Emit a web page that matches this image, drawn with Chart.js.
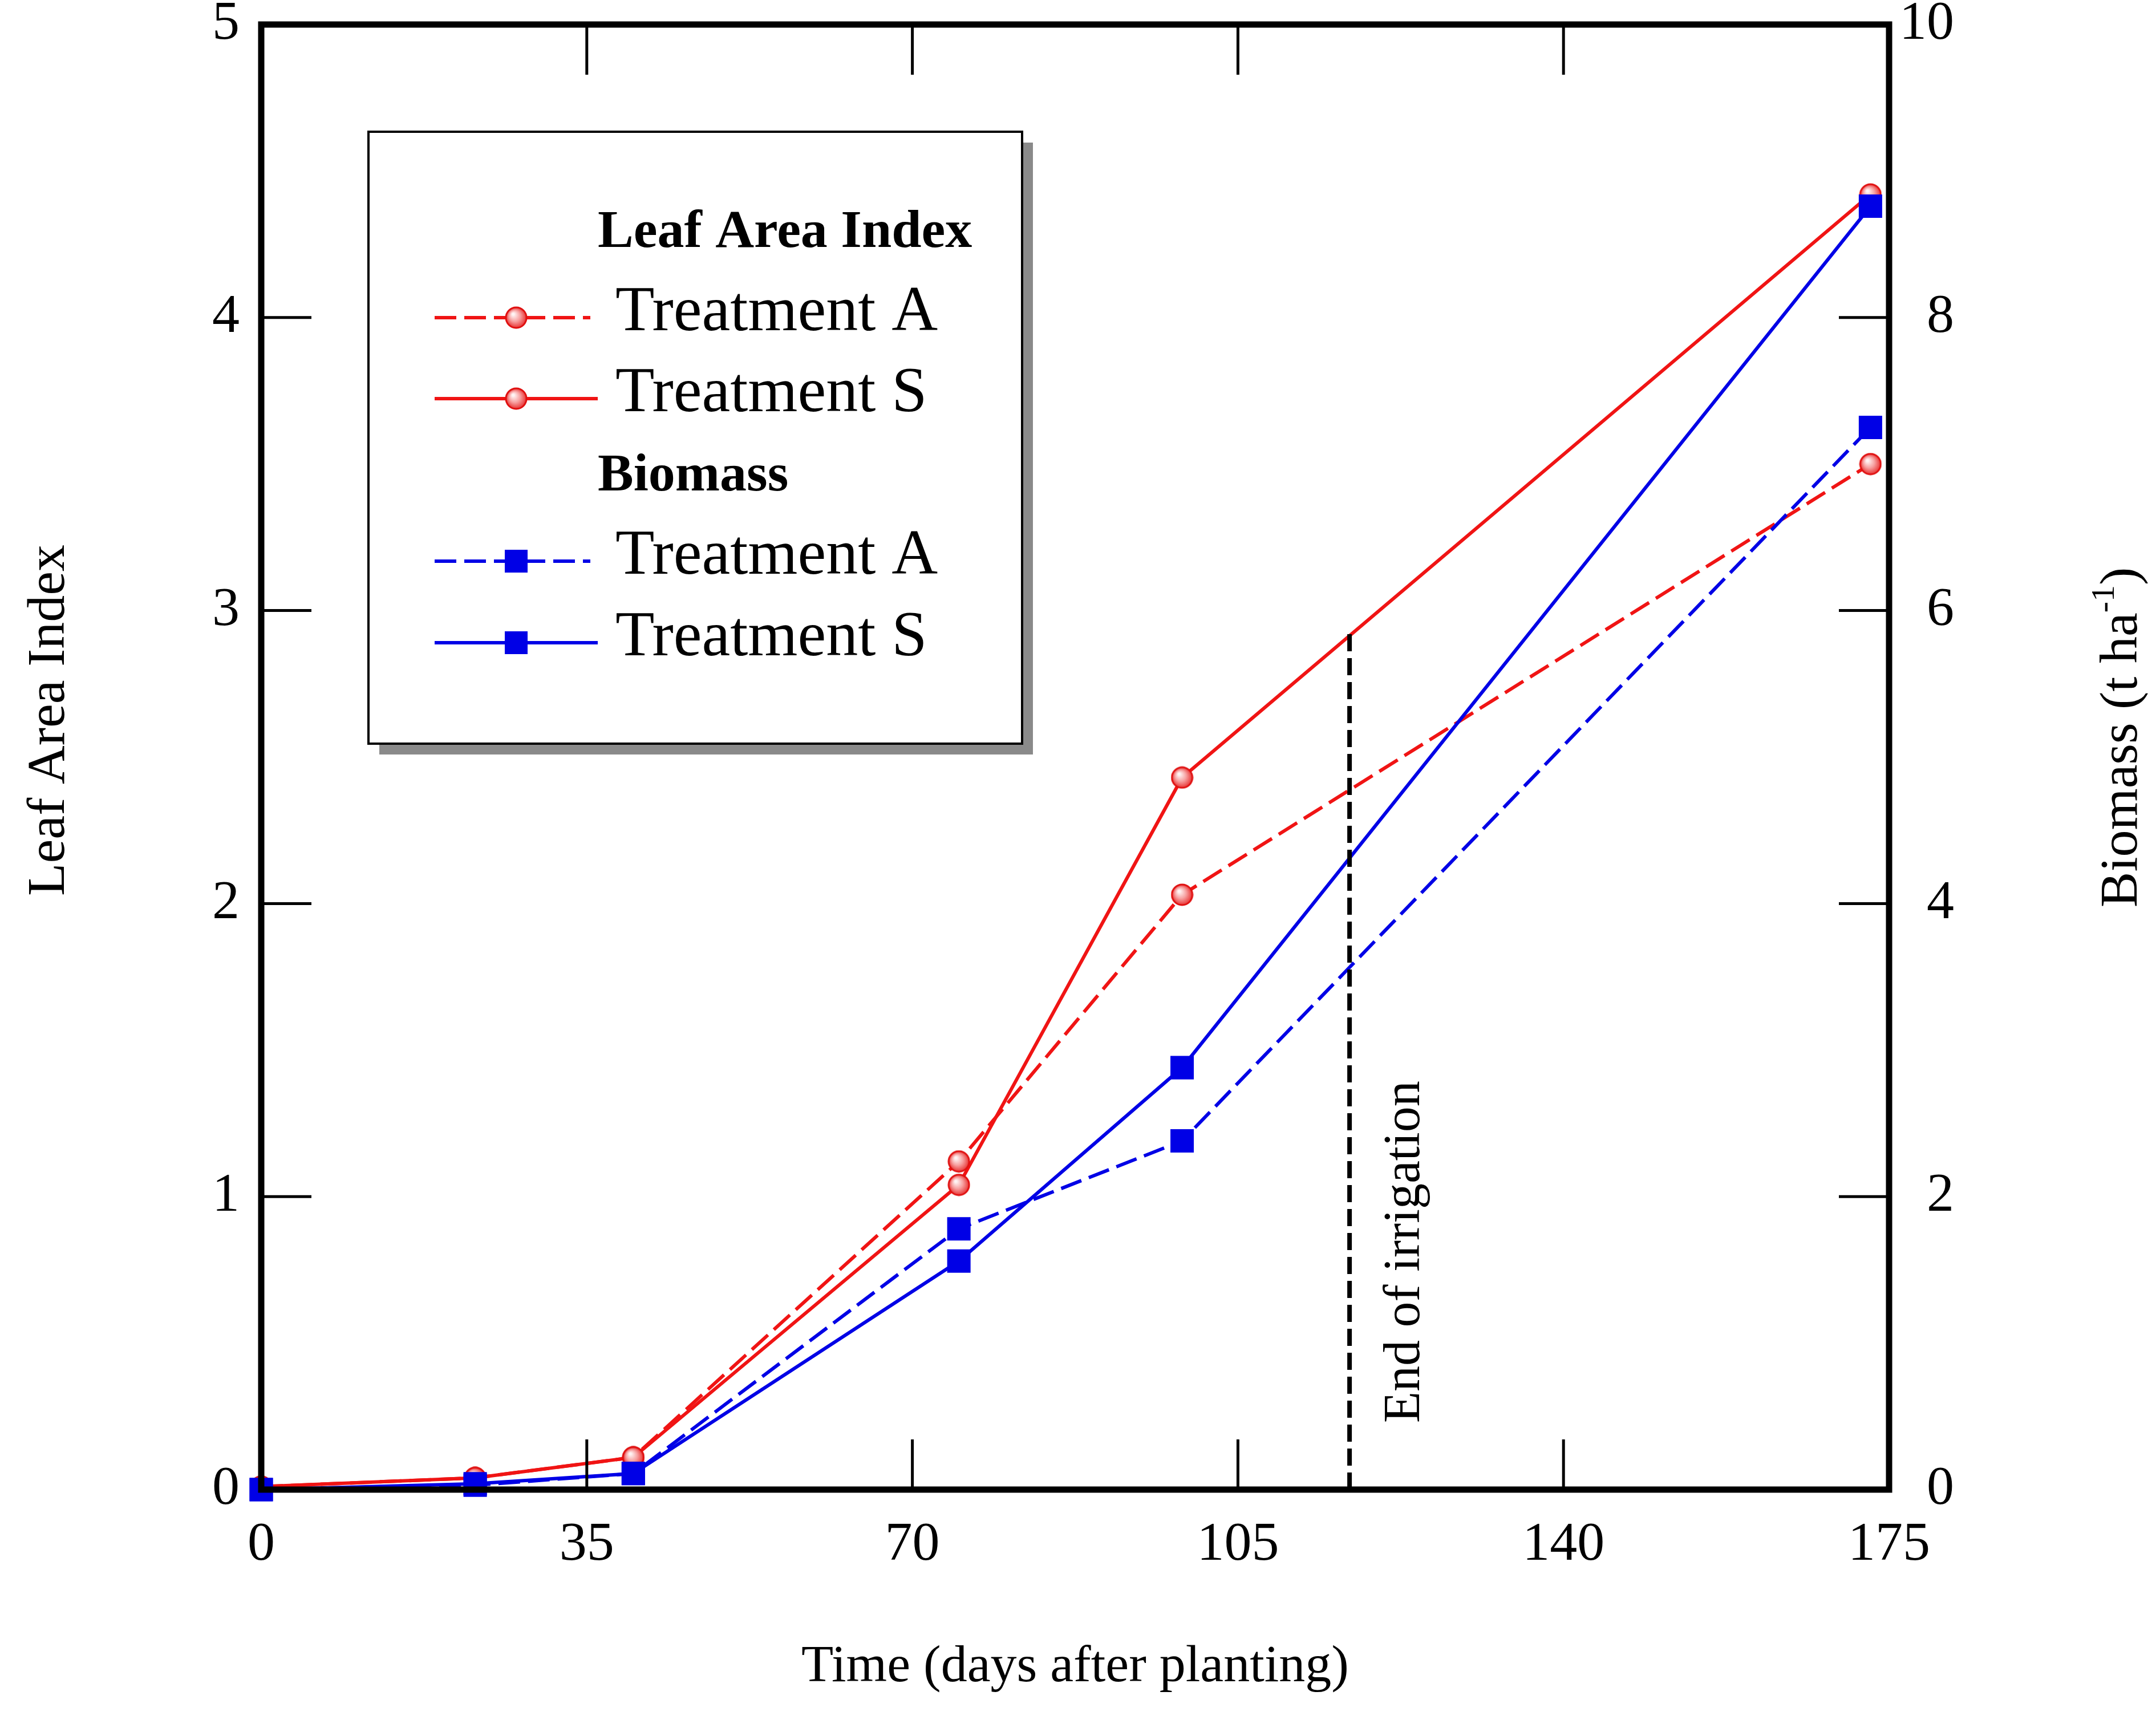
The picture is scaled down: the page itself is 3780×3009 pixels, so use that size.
<!DOCTYPE html>
<html>
<head>
<meta charset="utf-8">
<script src="https://cdn.jsdelivr.net/npm/chart.js@4.4.1/dist/chart.umd.min.js"></script>
<style>
html, body { margin: 0; padding: 0; background: #fff; }
canvas { display: block; }
</style>
</head>
<body>
<canvas id="chart" width="3780" height="3009"></canvas>
<script>
// Data
const days = [0, 23, 40, 75, 99, 173];
const laiTreatmentA = [0.01, 0.04, 0.11, 1.12, 2.03, 3.50];
const laiTreatmentS = [0.01, 0.04, 0.11, 1.04, 2.43, 4.42];
const biomassTreatmentA = [0.00, 0.03, 0.11, 1.78, 2.38, 7.25];
const biomassTreatmentS = [0.00, 0.04, 0.11, 1.56, 2.88, 8.76];
const dayTicks = [0, 35, 70, 105, 140, 175];
const laiTicks = [0, 1, 2, 3, 4, 5];
const biomassTicks = [0, 2, 4, 6, 8, 10];
const irrigationDay = 117;
const irrigationTop = 2.92;

const RED = '#f01414';
const BLUE = '#0000e6';
const SERIF = '"Liberation Serif", "Times New Roman", serif';

function toPoints(xs, ys) {
    return xs.map((x, i) => ({ x: x, y: ys[i] }));
}

// glossy red ball used as marker
function makeSphere(size) {
    const c = document.createElement('canvas');
    c.width = size;
    c.height = size;
    const g = c.getContext('2d');
    const r = size / 2 - 2;
    const cx = size / 2, cy = size / 2;
    const grad = g.createRadialGradient(cx - r * 0.3, cy - r * 0.35, r * 0.1, cx, cy, r);
    grad.addColorStop(0, '#fff4f4');
    grad.addColorStop(0.5, '#f7a0a0');
    grad.addColorStop(1, '#e83434');
    g.beginPath();
    g.arc(cx, cy, r, 0, Math.PI * 2);
    g.fillStyle = grad;
    g.fill();
    g.lineWidth = 3;
    g.strokeStyle = '#e01010';
    g.stroke();
    return c;
}
const sphere = makeSphere(40);

const tickFont = { family: SERIF, size: 96, lineHeight: 1.2 };

function line(ctx, x1, y1, x2, y2) {
    ctx.beginPath();
    ctx.moveTo(x1, y1);
    ctx.lineTo(x2, y2);
    ctx.stroke();
}

// frame, inner ticks, titles, annotation and legend
const decorations = {
    id: 'decorations',
    afterDraw(chart) {
        const ctx = chart.ctx;
        const { left, right, top, bottom } = chart.chartArea;
        const xs = chart.scales.x, ys = chart.scales.y, y2 = chart.scales.y2;
        ctx.save();
        ctx.strokeStyle = '#000';
        ctx.lineWidth = 5;
        dayTicks.forEach(v => {
            const px = xs.getPixelForValue(v);
            line(ctx, px, bottom, px, bottom - 88);
            line(ctx, px, top, px, top + 88);
        });
        laiTicks.forEach(v => {
            const py = ys.getPixelForValue(v);
            line(ctx, left, py, left + 88, py);
        });
        biomassTicks.forEach(v => {
            const py = y2.getPixelForValue(v);
            line(ctx, right, py, right - 88, py);
        });
        ctx.lineWidth = 11;
        ctx.strokeRect(left, top, right - left, bottom - top);

        ctx.fillStyle = '#000';
        // left title
        ctx.save();
        ctx.translate(112, 1263);
        ctx.rotate(-Math.PI / 2);
        ctx.font = '94px ' + SERIF;
        ctx.textAlign = 'center';
        ctx.textBaseline = 'alphabetic';
        ctx.fillText('Leaf Area Index', 0, 0);
        ctx.restore();

        // right title with superscript
        ctx.save();
        ctx.translate(3746, 1293);
        ctx.rotate(-Math.PI / 2);
        ctx.textAlign = 'left';
        ctx.textBaseline = 'alphabetic';
        const mainFont = '94px ' + SERIF, supFont = '58px ' + SERIF;
        ctx.font = mainFont;
        const w1 = ctx.measureText('Biomass (t ha').width;
        const w3 = ctx.measureText(')').width;
        ctx.font = supFont;
        const w2 = ctx.measureText('-1').width;
        let x0 = -(w1 + w2 + w3) / 2;
        ctx.font = mainFont;
        ctx.fillText('Biomass (t ha', x0, 0);
        ctx.font = supFont;
        ctx.fillText('-1', x0 + w1, -40);
        ctx.font = mainFont;
        ctx.fillText(')', x0 + w1 + w2, 0);
        ctx.restore();

        // irrigation note
        ctx.save();
        ctx.translate(xs.getPixelForValue(irrigationDay) + 122, ys.getPixelForValue(0) - 117);
        ctx.rotate(-Math.PI / 2);
        ctx.font = '90px ' + SERIF;
        ctx.textAlign = 'left';
        ctx.textBaseline = 'alphabetic';
        ctx.fillText('End of irrigation', 0, 0);
        ctx.restore();

        // legend
        const L = { x: 646, y: 231, w: 1146, h: 1073 };
        ctx.fillStyle = '#8a8a8a';
        ctx.fillRect(L.x + 19, L.y + 19, L.w, L.h);
        ctx.fillStyle = '#fff';
        ctx.fillRect(L.x, L.y, L.w, L.h);
        ctx.lineWidth = 4;
        ctx.strokeStyle = '#000';
        ctx.strokeRect(L.x, L.y, L.w, L.h);

        ctx.fillStyle = '#000';
        ctx.textAlign = 'left';
        ctx.textBaseline = 'alphabetic';
        ctx.font = 'bold 94px ' + SERIF;
        ctx.fillText('Leaf Area Index', 1048, 433);
        ctx.fillText('Biomass', 1048, 860);

        const rows = [
            { ds: chart.data.datasets[3], y: 557 },
            { ds: chart.data.datasets[4], y: 699 },
            { ds: chart.data.datasets[1], y: 984 },
            { ds: chart.data.datasets[2], y: 1127 }
        ];
        rows.forEach(r => {
            ctx.save();
            ctx.strokeStyle = r.ds.borderColor;
            ctx.lineWidth = r.ds.borderWidth;
            ctx.setLineDash(r.ds.borderDash || []);
            line(ctx, 762, r.y, r.ds.borderDash ? 1035 : 1048, r.y);
            ctx.restore();
            if (r.ds.pointStyle === 'rect') {
                ctx.fillStyle = r.ds.backgroundColor;
                ctx.fillRect(905 - 20, r.y - 20, 40, 40);
            } else {
                ctx.drawImage(r.ds.pointStyle, 905 - 20, r.y - 20);
            }
            ctx.fillStyle = '#000';
            ctx.font = '112px ' + SERIF;
            ctx.fillText(r.ds.legendText, 1079, r.y + 22);
        });
        ctx.restore();
    }
};

new Chart(document.getElementById('chart'), {
    type: 'line',
    data: {
        datasets: [
            {
                label: 'End of irrigation',
                data: [{ x: irrigationDay, y: 0 }, { x: irrigationDay, y: irrigationTop }],
                yAxisID: 'y',
                borderColor: '#000',
                borderWidth: 8,
                borderDash: [30, 12],
                pointRadius: 0,
                order: 0
            },
            {
                label: 'Biomass Treatment A',
                legendText: 'Treatment A',
                data: toPoints(days, biomassTreatmentA),
                yAxisID: 'y2',
                borderColor: BLUE,
                backgroundColor: BLUE,
                borderWidth: 6,
                borderDash: [38, 14],
                pointStyle: 'rect',
                pointRadius: 29,
                pointBorderWidth: 0,
                clip: false,
                order: 1
            },
            {
                label: 'Biomass Treatment S',
                legendText: 'Treatment S',
                data: toPoints(days, biomassTreatmentS),
                yAxisID: 'y2',
                borderColor: BLUE,
                backgroundColor: BLUE,
                borderWidth: 6,
                pointStyle: 'rect',
                pointRadius: 29,
                pointBorderWidth: 0,
                clip: false,
                order: 1
            },
            {
                label: 'LAI Treatment A',
                legendText: 'Treatment A',
                data: toPoints(days, laiTreatmentA),
                yAxisID: 'y',
                borderColor: RED,
                backgroundColor: RED,
                borderWidth: 6,
                borderDash: [38, 14],
                pointStyle: sphere,
                pointRadius: 20,
                clip: false,
                order: 2
            },
            {
                label: 'LAI Treatment S',
                legendText: 'Treatment S',
                data: toPoints(days, laiTreatmentS),
                yAxisID: 'y',
                borderColor: RED,
                backgroundColor: RED,
                borderWidth: 6,
                pointStyle: sphere,
                pointRadius: 20,
                clip: false,
                order: 2
            }
        ]
    },
    options: {
        responsive: false,
        devicePixelRatio: 1,
        animation: false,
        events: [],
        layout: { padding: { top: 43, left: 0, right: 354, bottom: 0 } },
        elements: { line: { tension: 0 } },
        plugins: {
            legend: { display: false },
            tooltip: { enabled: false }
        },
        scales: {
            x: {
                type: 'linear',
                min: 0,
                max: 175,
                afterBuildTicks: s => { s.ticks = dayTicks.map(v => ({ value: v })); },
                afterFit: s => { s.height = 397; s.paddingLeft = 0; s.paddingRight = 0; },
                ticks: { font: tickFont, color: '#000', padding: 40, maxRotation: 0, autoSkip: false },
                grid: { display: false, drawTicks: false },
                border: { display: false },
                title: {
                    display: true,
                    text: 'Time (days after planting)',
                    font: { family: SERIF, size: 92, lineHeight: 1.2 },
                    color: '#000',
                    padding: { top: 0, bottom: 30 }
                }
            },
            y: {
                position: 'left',
                min: 0,
                max: 5,
                afterBuildTicks: s => { s.ticks = laiTicks.map(v => ({ value: v })); },
                afterFit: s => { s.width = 458; s.paddingTop = 0; s.paddingBottom = 0; },
                ticks: { font: tickFont, color: '#000', padding: 38 },
                grid: { display: false, drawTicks: false },
                border: { display: false }
            },
            y2: {
                position: 'right',
                min: 0,
                max: 10,
                afterBuildTicks: s => { s.ticks = biomassTicks.map(v => ({ value: v })); },
                afterFit: s => { s.width = 114; s.paddingTop = 0; s.paddingBottom = 0; },
                ticks: { font: tickFont, color: '#000', padding: 20, crossAlign: 'far' },
                grid: { display: false, drawTicks: false },
                border: { display: false }
            }
        }
    },
    plugins: [decorations]
});
</script>
</body>
</html>
